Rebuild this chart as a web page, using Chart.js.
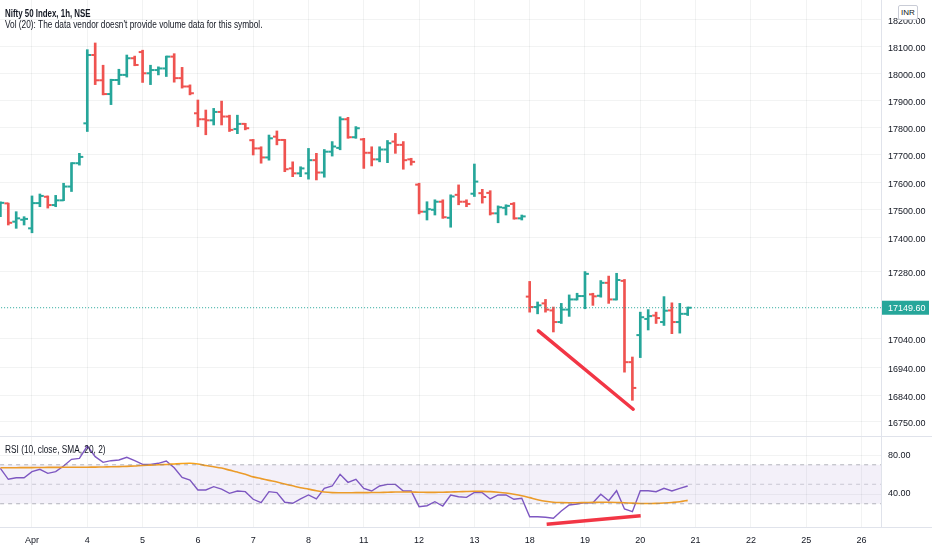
<!DOCTYPE html>
<html>
<head>
<meta charset="utf-8">
<script src="https://cdn.jsdelivr.net/npm/chart.js@4.4.1/dist/chart.umd.min.js"></script>
<style>
  body { margin: 0; background: #fff; width: 932px; height: 550px; overflow: hidden; position: relative;
         font-family: 'Liberation Sans', Arial, sans-serif; color: #131722; }
  canvas { position: absolute; left: 0; }
  #priceChart { top: 0; }
  #rsiChart { top: 437px; }
  .legend { position: absolute; left: 5px; font-size: 10px; white-space: nowrap; transform-origin: 0 50%; transform: scaleX(0.83); }
  .sep { position: absolute; left: 0; width: 932px; height: 1px; background: #e0e3eb; }
  #inr { position: absolute; left: 898px; top: 5px; width: 18px; height: 13px; border: 1px solid #c9ccd6;
         border-radius: 2px; background: #fff; font-size: 8px; text-align: center; line-height: 13px; }
</style>
</head>
<body>
<canvas id="priceChart" width="932" height="437"></canvas>
<canvas id="rsiChart" width="932" height="113"></canvas>
<div class="sep" style="top:436px"></div>
<div class="sep" style="top:527px"></div>
<div class="legend" style="top:8px;font-weight:bold;transform:scaleX(0.79)">Nifty 50 Index, 1h, NSE</div>
<div class="legend" style="top:19px">Vol (20): The data vendor doesn't provide volume data for this symbol.</div>
<div class="legend" style="top:444px">RSI (10, close, SMA, 20, 2)</div>
<div id="inr">INR</div>
<script>
// jours affichés sur l'axe du temps (7 bougies horaires par séance)
const dayLabels = ["Apr", "4", "5", "6", "7", "8", "11", "12", "13", "18", "19", "20", "21", "22", "25", "26"];
const firstDayIndex = 4;
const barsPerDay = 7;

const priceTicks = [18200, 18100, 18000, 17900, 17800, 17700, 17600, 17500, 17400, 17280, 17040, 16940, 16840, 16750];
const rsiTicks = [80, 40];

const opens = [17496, 17523, 17457, 17464,
  17433, 17524, 17547, 17517, 17534, 17584, 17669,
  17815, 18068, 17974, 17923, 17975, 17994, 18056,
  18079, 18000, 18012, 18018, 18062, 17982, 17951,
  17852, 17830, 17826, 17857, 17840, 17794, 17813,
  17753, 17723, 17690, 17766, 17754, 17650, 17632,
  17632, 17680, 17635, 17711, 17725, 17830, 17764,
  17756, 17707, 17683, 17719, 17748, 17736, 17683,
  17591, 17493, 17500, 17529, 17471, 17554, 17529,
  17558, 17560, 17561, 17487, 17507, 17521, 17469,
  17189, 17152, 17165, 17140, 17099, 17143, 17179,
  17191, 17197, 17192, 17238, 17179, 17245, 16958,
  17053, 17110, 17122, 17099, 17140, 17099, 17128];
const highs = [17529, 17524, 17493, 17475,
  17550, 17557, 17550, 17552, 17596, 17671, 17705,
  18088, 18113, 18030, 17978, 18015, 18068, 18064,
  18086, 18030, 18024, 18064, 18073, 18022, 17957,
  17901, 17864, 17870, 17897, 17845, 17845, 17815,
  17756, 17729, 17772, 17787, 17756, 17674, 17656,
  17723, 17705, 17719, 17748, 17839, 17837, 17803,
  17760, 17729, 17729, 17752, 17778, 17748, 17687,
  17596, 17529, 17536, 17536, 17554, 17590, 17536,
  17666, 17574, 17569, 17514, 17518, 17526, 17481,
  17243, 17170, 17179, 17152, 17165, 17195, 17201,
  17278, 17201, 17246, 17262, 17272, 17250, 16976,
  17134, 17143, 17134, 17189, 17167, 17165, 17152];
const lows = [17475, 17445, 17433, 17445,
  17417, 17511, 17506, 17511, 17533, 17566, 17662,
  17785, 17958, 17920, 17884, 17958, 17986, 18028,
  17966, 17958, 17994, 17988, 17967, 17945, 17920,
  17803, 17773, 17809, 17809, 17785, 17777, 17791,
  17699, 17669, 17680, 17736, 17638, 17620, 17620,
  17611, 17608, 17618, 17695, 17718, 17760, 17760,
  17650, 17659, 17674, 17671, 17705, 17647, 17662,
  17485, 17463, 17481, 17469, 17437, 17518, 17511,
  17548, 17524, 17481, 17453, 17481, 17466, 17463,
  17134, 17128, 17134, 17064, 17094, 17119, 17177,
  17146, 17158, 17187, 17165, 17177, 16923, 16825,
  16974, 17071, 17094, 17087, 17058, 17060, 17122];
const closes = [17525, 17453, 17469, 17467,
  17524, 17550, 17517, 17534, 17584, 17669, 17692,
  18068, 17974, 17923, 17975, 17994, 18056, 18031,
  18000, 18012, 18018, 18062, 17982, 17951, 17926,
  17830, 17826, 17857, 17840, 17791, 17813, 17797,
  17723, 17690, 17760, 17754, 17647, 17632, 17650,
  17680, 17635, 17711, 17730, 17830, 17764, 17797,
  17707, 17683, 17719, 17742, 17736, 17680, 17674,
  17493, 17502, 17529, 17473, 17548, 17529, 17521,
  17602, 17546, 17487, 17509, 17514, 17469, 17476,
  17152, 17158, 17143, 17099, 17143, 17179, 17191,
  17270, 17190, 17238, 17179, 17248, 16958, 16868,
  17116, 17120, 17113, 17139, 17099, 17128, 17149.6];

const rsiValues = [66.4, 55.1, 56.7, 56.7,
  62.9, 65.3, 61.2, 62.9, 68.7, 75.6, 76.6,
  89.2, 78.3, 72.5, 74.2, 74.9, 77.6, 74.2,
  70.4, 70.4, 71.5, 73.8, 67.0, 57.1, 54.4,
  44.1, 44.1, 47.5, 45.1, 40.7, 43.1, 42.4,
  34.6, 31.1, 42.4, 41.4, 31.5, 30.5, 34.9,
  39.0, 34.9, 45.8, 48.2, 60.2, 52.0, 55.1,
  45.8, 43.1, 48.2, 49.9, 49.9, 43.1, 43.1,
  27.0, 28.0, 32.1, 27.7, 39.0, 37.2, 36.6,
  41.7, 41.4, 34.9, 39.0, 39.0, 34.6, 35.6,
  16.7, 16.7, 16.1, 15.1, 22.6, 28.7, 29.7,
  31.1, 31.1, 39.7, 33.1, 43.4, 24.6, 21.9,
  43.4, 43.4, 42.4, 45.8, 43.1, 45.8, 48.2];
const rsiSma = [67.0, 67.0, 67.0, 67.1,
  67.1, 67.2, 67.3, 67.3, 67.4, 67.4, 67.5,
  67.5, 67.6, 67.7, 67.9, 68.1, 68.4, 68.8,
  69.3, 69.6, 70.0, 70.3, 70.8, 71.3, 71.5,
  70.8, 69.2, 68.0, 66.6, 64.5, 62.5, 60.3,
  57.6, 55.8, 54.0, 52.3, 50.3, 48.4, 46.5,
  45.0, 43.3, 42.0, 41.4, 41.3, 41.3, 41.4,
  41.4, 41.5, 41.6, 41.8, 42.0, 42.1, 42.0,
  41.8, 41.7, 41.7, 41.8, 42.0, 42.3, 42.6,
  42.8, 42.7, 42.4, 41.8, 41.0, 39.8, 38.3,
  36.3, 34.2, 32.5, 31.5, 31.2, 31.1, 31.1,
  31.3, 31.4, 31.5, 31.5, 31.3, 31.0, 30.6,
  30.3, 30.2, 30.4, 30.8, 31.3, 32.0, 33.5];

// lignes tracées à la main sur le graphique
const priceTrend = [[68.1, 17068], [80.1, 16794]];
const rsiTrend = [[69.15, 8.9], [81.05, 17.7]];
const rsiUpper = 70, rsiMiddle = 50, rsiLower = 30;

const UP = "#26a69a", DOWN = "#ef5350", LINE_RED = "#f23645";
const GRID = "rgba(42,46,57,0.06)", AXIS = "#e0e3eb";
const FONT = "'Liberation Sans', Arial, sans-serif";
const xMin = -0.05, xMax = 111.47;

Chart.defaults.font.family = FONT;
Chart.defaults.font.size = 9;
Chart.defaults.color = "#131722";

const idx = closes.map((c, i) => i);
const barColors = closes.map((c, i) => c >= opens[i] ? UP : DOWN);
const dayTicks = dayLabels.map((d, k) => firstDayIndex + k * barsPerDay);
const lastClose = closes[closes.length - 1];

function noPadding(s) {
    s.paddingTop = 0; s.paddingBottom = 0; s.paddingLeft = 0; s.paddingRight = 0;
}

function xScale(showLabels) {
    return {
        type: "linear", min: xMin, max: xMax, offset: false,
        afterBuildTicks: s => { s.ticks = dayTicks.map(v => ({ value: v })); },
        afterFit: s => { s.height = showLabels ? 23 : 0; noPadding(s); },
        grid: { color: GRID, drawTicks: false, offset: false },
        border: { display: showLabels, color: AXIS },
        ticks: {
            display: showLabels, autoSkip: false, maxRotation: 0, padding: 8,
            callback: (v, i) => dayLabels[i]
        }
    };
}

const lastPriceBadge = {
    id: "lastPriceBadge",
    afterDraw(chart) {
        const y = chart.scales.y.getPixelForValue(lastClose);
        const ctx = chart.ctx;
        ctx.save();
        ctx.fillStyle = UP;
        ctx.fillRect(chart.chartArea.right + 1, y - 7, 47, 14);
        ctx.fillStyle = "#fff";
        ctx.font = "9px " + FONT;
        ctx.textBaseline = "middle";
        ctx.fillText(lastClose.toFixed(2), chart.chartArea.right + 7, y + 0.5);
        ctx.restore();
    }
};

new Chart(document.getElementById("priceChart"), {
    type: "bar",
    data: {
        datasets: [
            {
                type: "line", data: [{ x: xMin - 1, y: lastClose }, { x: xMax + 1, y: lastClose }],
                borderColor: UP, borderWidth: 1, borderDash: [1, 2], pointRadius: 0
            },
            {
                data: idx.map(i => ({ x: i, y: [lows[i], highs[i]] })),
                backgroundColor: barColors, barThickness: 2, grouped: false
            },
            {
                type: "line", showLine: false, data: idx.map(i => ({ x: i - 0.24, y: opens[i] })),
                pointStyle: "line", pointRadius: 2, pointBorderWidth: 2, pointBorderColor: barColors
            },
            {
                type: "line", showLine: false, data: idx.map(i => ({ x: i + 0.24, y: closes[i] })),
                pointStyle: "line", pointRadius: 2, pointBorderWidth: 2, pointBorderColor: barColors
            },
            {
                type: "line", data: priceTrend.map(p => ({ x: p[0], y: p[1] })),
                borderColor: LINE_RED, borderWidth: 3.5, pointRadius: 0, borderCapStyle: "round"
            }
        ]
    },
    options: {
        responsive: false, animation: false, events: [],
        layout: { padding: 0, autoPadding: false },
        plugins: { legend: { display: false }, tooltip: { enabled: false } },
        scales: {
            x: xScale(false),
            y: {
                type: "logarithmic", position: "right", min: 16698, max: 18274.4,
                afterBuildTicks: s => { s.ticks = priceTicks.map(v => ({ value: v })); },
                afterFit: s => { s.width = 51; noPadding(s); },
                grid: { color: GRID, drawTicks: false },
                border: { color: AXIS },
                ticks: { padding: 7, labelOffset: 2, callback: v => Number(v).toFixed(2) }
            }
        }
    },
    plugins: [lastPriceBadge]
});

const bandLine = v => [{ x: xMin - 1, y: v }, { x: xMax + 1, y: v }];
const dashed = { borderColor: "rgba(120,123,134,0.55)", borderWidth: 1, borderDash: [4, 4], pointRadius: 0 };

new Chart(document.getElementById("rsiChart"), {
    type: "line",
    data: {
        datasets: [
            { data: bandLine(rsiUpper), ...dashed },
            { data: bandLine(rsiLower), ...dashed, fill: "-1", backgroundColor: "rgba(126,87,194,0.09)" },
            { data: bandLine(rsiMiddle), borderColor: "rgba(120,123,134,0.35)", borderWidth: 1, borderDash: [4, 4], pointRadius: 0 },
            {
                data: idx.map(i => ({ x: i, y: rsiSma[i] })),
                borderColor: "#f7a21b", borderWidth: 1.6, pointRadius: 0, tension: 0.3
            },
            {
                data: idx.map(i => ({ x: i, y: rsiValues[i] })),
                borderColor: "#7e57c2", borderWidth: 1.4, pointRadius: 0
            },
            {
                data: rsiTrend.map(p => ({ x: p[0], y: p[1] })),
                borderColor: LINE_RED, borderWidth: 3.5, pointRadius: 0
            }
        ]
    },
    options: {
        responsive: false, animation: false, events: [],
        layout: { padding: 0, autoPadding: false },
        plugins: { legend: { display: false }, tooltip: { enabled: false } },
        scales: {
            x: xScale(true),
            y: {
                position: "right", min: 6.15, max: 98.5,
                afterBuildTicks: s => { s.ticks = rsiTicks.map(v => ({ value: v })); },
                afterFit: s => { s.width = 51; noPadding(s); },
                grid: { color: GRID, drawTicks: false },
                border: { color: AXIS },
                ticks: { padding: 7, callback: v => Number(v).toFixed(2) }
            }
        }
    }
});
</script>
</body>
</html>
